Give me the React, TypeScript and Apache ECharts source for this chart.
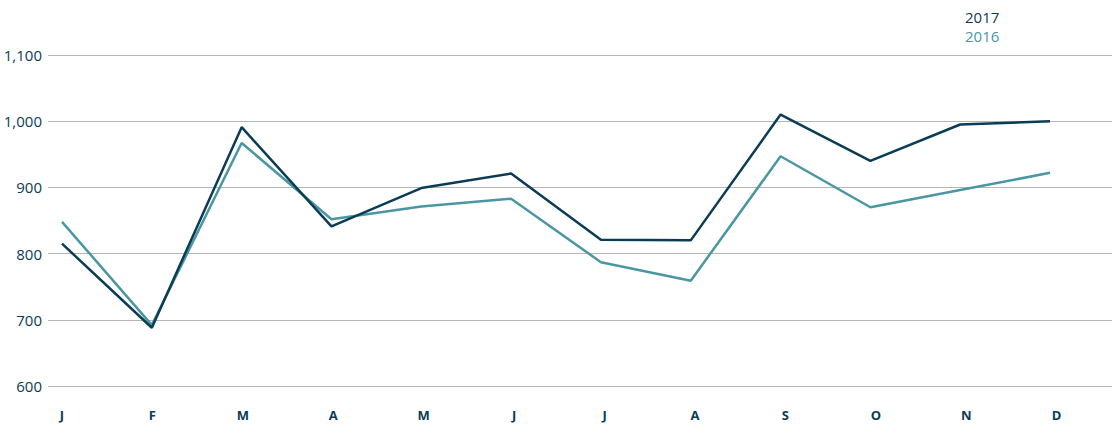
import { useRef, useEffect } from 'react'
import * as echarts from 'echarts'

const MONTHS = ['J', 'F', 'M', 'A', 'M', 'J', 'J', 'A', 'S', 'O', 'N', 'D']
const VALUES_2017 = [815, 688, 991, 841, 899, 921, 821, 820, 1010, 940, 995, 1000]
const VALUES_2016 = [848, 692, 967, 852, 871, 883, 787, 759, 947, 870, 896, 922]
const Y_TICKS = [600, 700, 800, 900, 1000, 1100]

const DARK = '#0b3c56'
const TEAL = '#4a97a2'
const FONT = '"Open Sans", "Noto Sans", sans-serif'
// month labels sit on a slightly wider step than the data points
const LABEL_STEP = 1.0067

function buildOption(): echarts.EChartsOption {
  const labelPos = MONTHS.map((_, i) => i * LABEL_STEP)
  return {
    animation: false,
    backgroundColor: '#fff',
    grid: { left: 48, right: 8, top: 55, bottom: 52, containLabel: false },
    legend: {
      orient: 'vertical',
      left: 955,
      top: 4,
      itemWidth: 0,
      itemHeight: 0,
      itemGap: 4,
      selectedMode: false,
      textStyle: { fontFamily: FONT, fontSize: 15 },
      data: [
        { name: '2017', textStyle: { color: DARK }, icon: 'rect' },
        { name: '2016', textStyle: { color: TEAL }, icon: 'rect' },
      ],
    },
    xAxis: {
      type: 'value',
      min: -0.156,
      max: 11.69,
      axisLine: { show: false },
      axisTick: { show: false },
      splitLine: { show: false },
      axisLabel: {
        customValues: labelPos,
        formatter: (v: number) => MONTHS[Math.round(v / LABEL_STEP)] ?? '',
        color: DARK,
        fontFamily: FONT,
        fontSize: 13,
        fontWeight: 'bold',
        margin: 22,
      },
    },
    yAxis: {
      type: 'value',
      min: Y_TICKS[0],
      max: Y_TICKS[Y_TICKS.length - 1],
      interval: 100,
      axisLine: { show: false },
      axisTick: { show: false },
      splitLine: { lineStyle: { color: '#b5b5b5', width: 1 } },
      axisLabel: {
        color: DARK,
        fontFamily: FONT,
        fontSize: 15,
        margin: 6,
        formatter: (v: number) => v.toLocaleString('en-US'),
      },
    },
    series: [
      {
        name: '2016',
        type: 'line',
        data: VALUES_2016.map((v, i) => [i, v]),
        symbol: 'none',
        lineStyle: { color: TEAL, width: 2.5 },
        itemStyle: { color: TEAL },
        z: 2,
      },
      {
        name: '2017',
        type: 'line',
        data: VALUES_2017.map((v, i) => [i, v]),
        symbol: 'none',
        lineStyle: { color: DARK, width: 2.5 },
        itemStyle: { color: DARK },
        z: 3,
      },
    ],
  }
}

export default function App() {
  const ref = useRef<HTMLDivElement>(null)

  useEffect(() => {
    const el = ref.current
    if (!el) return
    const chart = echarts.init(el, null, { renderer: 'svg' })
    chart.setOption(buildOption())
    return () => chart.dispose()
  }, [])

  return (
    <div
      ref={ref}
      style={{ position: 'absolute', left: 0, top: 0, width: 1120, height: 438, background: '#fff' }}
    />
  )
}
